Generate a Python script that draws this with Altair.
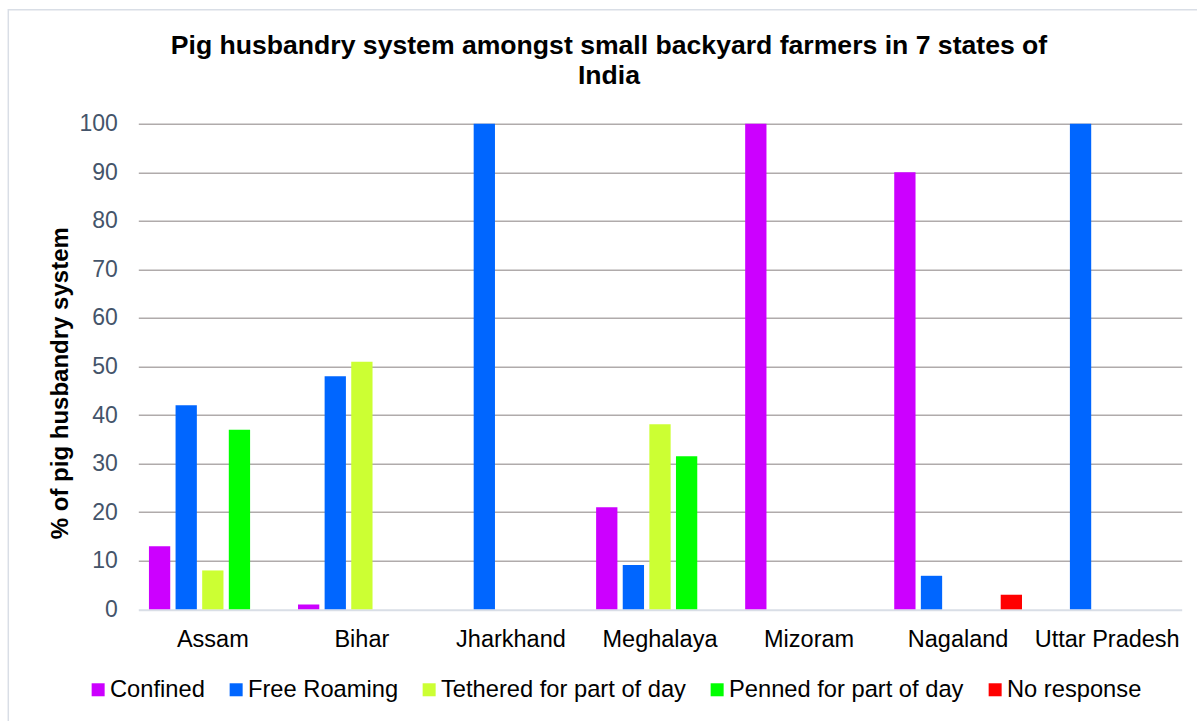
import altair as alt
import pandas as pd

# Survey results: share of backyard farmers using each pig husbandry system
states = ["Assam", "Bihar", "Jharkhand", "Meghalaya", "Mizoram", "Nagaland", "Uttar Pradesh"]
systems = [
    "Confined",
    "Free Roaming",
    "Tethered for part of day",
    "Penned for part of day",
    "No response",
]
colors = ["#CC00FF", "#0066FF", "#CCFF33", "#00FF00", "#FF0000"]

confined = [13, 1, 0, 21.0, 100, 90, 0]
free_roaming = [42, 48, 100, 9.1, 0, 6.9, 100]
tethered = [8, 51, 0, 38.1, 0, 0, 0]
penned = [37, 0, 0, 31.5, 0, 0, 0]
no_response = [0, 0, 0, 0, 0, 3.0, 0]

series = [confined, free_roaming, tethered, penned, no_response]
rows = [
    {"State": st, "System": sys_name, "Percent": vals[i]}
    for sys_name, vals in zip(systems, series)
    for i, st in enumerate(states)
    if vals[i] > 0
]
df = pd.DataFrame(rows)

FONT = "Liberation Sans"

bars = alt.Chart(df).mark_bar().encode(
    x=alt.X(
        "State:N",
        sort=states,
        scale=alt.Scale(paddingInner=0, paddingOuter=0),
        axis=alt.Axis(
            title=None,
            labelAngle=0,
            labelFontSize=23.5,
            labelColor="#000000",
            labelPadding=18,
            ticks=False,
            domain=False,
            grid=False,
            labelLimit=0,
        ),
    ),
    xOffset=alt.XOffset(
        "System:N",
        sort=systems,
        scale=alt.Scale(domain=systems, paddingInner=0.2, paddingOuter=0.4),
    ),
    y=alt.Y(
        "Percent:Q",
        scale=alt.Scale(domain=[0, 100], nice=False),
        axis=alt.Axis(
            values=list(range(0, 101, 10)),
            title="% of pig husbandry system",
            titleFontSize=24,
            titleFontWeight="bold",
            titleColor="#000000",
            titleAngle=270,
            titleAlign="center",
            titleBaseline="alphabetic",
            titleX=-71,
            titleY=259,
            labelFontSize=23,
            labelColor="#44546A",
            labelPadding=21,
            ticks=False,
            domain=False,
            gridColor=alt.condition("datum.value === 0", alt.value("#D9DEE6"), alt.value("#B0ABAB")),
            gridWidth=alt.condition("datum.value === 0", alt.value(2), alt.value(1.5)),
        ),
    ),
    color=alt.Color(
        "System:N",
        scale=alt.Scale(domain=systems, range=colors),
        legend=alt.Legend(
            title=None,
            orient="none",
            legendX=-52,
            legendY=554,
            direction="horizontal",
            columns=5,
            symbolType="square",
            symbolSize=169,
            symbolStrokeWidth=0,
            labelFontSize=23.7,
            labelColor="#000000",
            labelOffset=0,
            columnPadding=19,
            padding=0,
            labelLimit=0,
        ),
    ),
)

# light frame around the whole chart area
frame = alt.Chart(pd.DataFrame({"f": [0]})).mark_rect(
    filled=False, stroke="#D9DEE6", strokeWidth=1.5
).encode(
    x=alt.value(-130),
    x2=alt.value(1100),
    y=alt.value(-114),
    y2=alt.value(700),
)

chart = alt.layer(frame, bars).properties(
    width=1043.4,
    height=485.6,
    autosize=alt.AutoSizeParams(type="none"),
    padding={"left": 138.3, "top": 123.7, "right": 15.3, "bottom": 111.7},
    title=alt.Title(
        ["Pig husbandry system amongst small backyard farmers in 7 states of", "India"],
        fontSize=26.6,
        fontWeight="bold",
        color="#000000",
        anchor="middle",
        frame="group",
        dx=-51,
        dy=81,
        offset=0,
        lineHeight=30,
        font=FONT,
    ),
).configure(
    font=FONT,
    background="#FFFFFF",
).configure_view(
    stroke="transparent",
)

chart.save("out.html", embed_options={"renderer": "svg", "actions": False})
